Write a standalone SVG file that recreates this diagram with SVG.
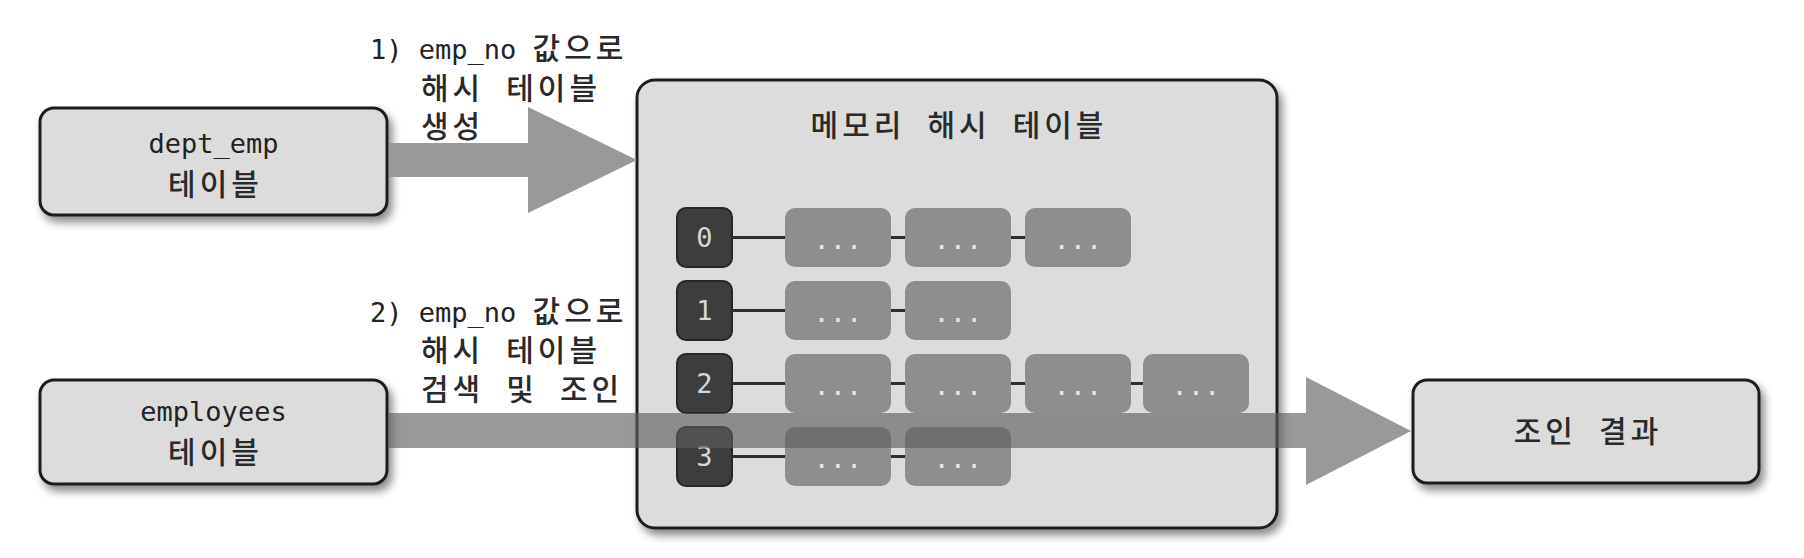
<svg xmlns="http://www.w3.org/2000/svg" width="1804" height="558" viewBox="0 0 1804 558">
<style>
.bg{fill:#ffffff}
.box{fill:#dcdcdc;stroke:#1e1e1e;stroke-width:3}
.slot{fill:#3d3d3d;stroke:#262626;stroke-width:2}
.item{fill:#8e8e8e}
.lat{font-family:"DejaVu Sans Mono","Noto Sans CJK KR",monospace;font-size:27px;fill:#222222}
.ko{font-family:"DejaVu Sans Mono","Noto Sans CJK KR",sans-serif;font-size:30px;font-weight:500;fill:#2a2a2a;letter-spacing:4px}
.num{font-family:"DejaVu Sans Mono",monospace;font-size:27px;fill:#d8d8d8}
.dots{font-family:"DejaVu Sans Mono",monospace;font-size:27px;fill:#e4e4e4}
.chain{stroke:#2e2e2e;stroke-width:3;fill:none}
.arrow{fill:#999999}
.arrow2{fill:#5d5d5d;fill-opacity:0.63}
</style>
<defs>
<filter id="sh" x="-10%" y="-10%" width="125%" height="135%">
<feDropShadow dx="4" dy="6" stdDeviation="4" flood-color="#000" flood-opacity="0.45"/>
</filter>
</defs>
<rect class="bg" x="0" y="0" width="1804" height="558"/>

<g id="dept_emp">
<rect class="box" x="40" y="108" width="347" height="107" rx="14" filter="url(#sh)"/>
<text class="lat" x="213.5" y="153" text-anchor="middle">dept_emp</text>
<text class="ko" x="215.5" y="195" text-anchor="middle">테이블</text>
</g>

<g id="employees">
<rect class="box" x="40" y="380" width="347" height="104" rx="14" filter="url(#sh)"/>
<text class="lat" x="213.5" y="421" text-anchor="middle">employees</text>
<text class="ko" x="215.5" y="463" text-anchor="middle">테이블</text>
</g>

<g id="hash_table">
<rect class="box" x="637" y="80" width="640" height="448" rx="18" filter="url(#sh)"/>
<text class="ko" x="959" y="136" text-anchor="middle">메모리 해시 테이블</text>
</g>

<g id="bucket0">
<rect class="slot" x="677" y="208" width="55" height="59" rx="9"/>
<text class="num" x="704.5" y="247" text-anchor="middle">0</text>
<rect class="item" x="785" y="208" width="106" height="59" rx="10"/>
<text class="dots" x="838" y="249" text-anchor="middle">...</text>
<rect class="item" x="905" y="208" width="106" height="59" rx="10"/>
<text class="dots" x="958" y="249" text-anchor="middle">...</text>
<rect class="item" x="1025" y="208" width="106" height="59" rx="10"/>
<text class="dots" x="1078" y="249" text-anchor="middle">...</text>
</g>

<g id="bucket1">
<rect class="slot" x="677" y="281" width="55" height="59" rx="9"/>
<text class="num" x="704.5" y="320" text-anchor="middle">1</text>
<rect class="item" x="785" y="281" width="106" height="59" rx="10"/>
<text class="dots" x="838" y="322" text-anchor="middle">...</text>
<rect class="item" x="905" y="281" width="106" height="59" rx="10"/>
<text class="dots" x="958" y="322" text-anchor="middle">...</text>
</g>

<g id="bucket2">
<rect class="slot" x="677" y="354" width="55" height="59" rx="9"/>
<text class="num" x="704.5" y="393" text-anchor="middle">2</text>
<rect class="item" x="785" y="354" width="106" height="59" rx="10"/>
<text class="dots" x="838" y="395" text-anchor="middle">...</text>
<rect class="item" x="905" y="354" width="106" height="59" rx="10"/>
<text class="dots" x="958" y="395" text-anchor="middle">...</text>
<rect class="item" x="1025" y="354" width="106" height="59" rx="10"/>
<text class="dots" x="1078" y="395" text-anchor="middle">...</text>
<rect class="item" x="1143" y="354" width="106" height="59" rx="10"/>
<text class="dots" x="1196" y="395" text-anchor="middle">...</text>
</g>

<g id="bucket3">
<rect class="slot" x="677" y="427" width="55" height="59" rx="9"/>
<text class="num" x="704.5" y="466" text-anchor="middle">3</text>
<rect class="item" x="785" y="427" width="106" height="59" rx="10"/>
<text class="dots" x="838" y="468" text-anchor="middle">...</text>
<rect class="item" x="905" y="427" width="106" height="59" rx="10"/>
<text class="dots" x="958" y="468" text-anchor="middle">...</text>
</g>

<g id="join_result">
<rect class="box" x="1413" y="380" width="346" height="103" rx="14" filter="url(#sh)"/>
<text class="ko" x="1588" y="442" text-anchor="middle">조인 결과</text>
</g>

<g id="label1">
<text x="370" y="59"><tspan class="lat">1) emp_no </tspan><tspan class="ko">값으로</tspan></text>
<text class="ko" x="421" y="99">해시 테이블</text>
<text class="ko" x="421" y="137">생성</text>
</g>

<g id="label2">
<text x="370" y="322"><tspan class="lat">2) emp_no </tspan><tspan class="ko">값으로</tspan></text>
<text class="ko" x="421" y="361">해시 테이블</text>
<text class="ko" x="421" y="400" letter-spacing="3">검색 및 조인</text>
</g>

<g id="connectors">
<path class="chain" d="M732,237.5H785M891,237.5H905M1011,237.5H1025"/>
<path class="chain" d="M732,310.5H785M891,310.5H905"/>
<path class="chain" d="M732,383.5H785M891,383.5H905M1011,383.5H1025M1131,383.5H1143"/>
<path class="chain" d="M732,456.5H785M891,456.5H905"/>
<path class="arrow" d="M389,143H528V107L637,160L528,213V177H389Z"/>
<path class="arrow2" d="M389,413H1306V377L1411,431L1306,485V448H389Z"/>
</g>
</svg>
